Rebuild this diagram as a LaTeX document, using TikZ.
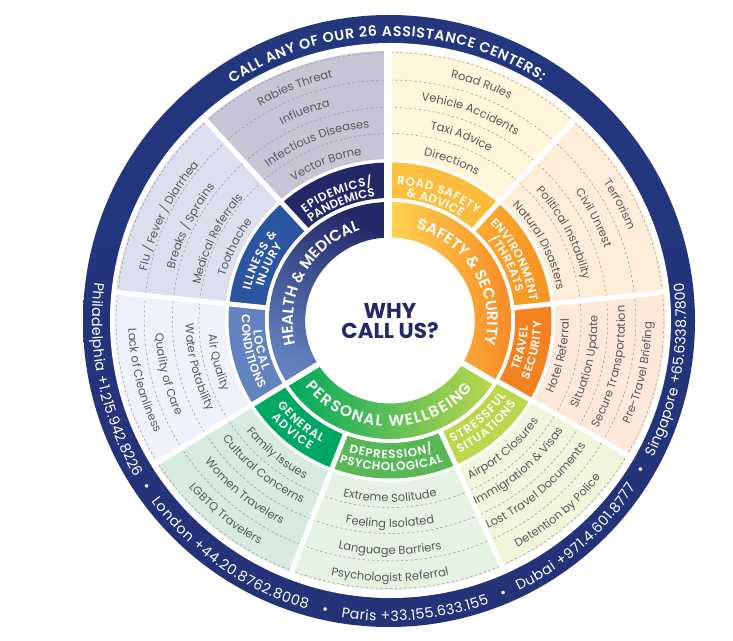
\documentclass[tikz,border=0pt]{standalone}
\usepackage{fontspec}
\setmainfont{Poppins}
\newfontfamily\hdfam{Poppins}[UprightFont=* SemiBold]
\usetikzlibrary{decorations.text}
\definecolor{ltgray}{HTML}{58595B}
\definecolor{navy}{HTML}{232866}
\newcommand\ltfont{\fontsize{11.5}{13}\selectfont}
\newcommand\midfont{\hdfam\fontsize{11.8}{13}\selectfont}
\newcommand\innfont{\hdfam\fontsize{15.4}{17}\selectfont}
\newcommand\rimfont{\fontsize{14.2}{16}\selectfont}
\def\fac{1.022}
\newcommand\sectpath[4]{(#1:\fac*#4 and #4) arc[start angle=#1,end angle=#2,x radius=\fac*#4,y radius=#4] -- (#2:\fac*#3 and #3) arc[start angle=#2,end angle=#1,x radius=\fac*#3,y radius=#3] -- cycle}
\newcommand\cwtext[6]{\path[decorate,decoration={text along path,text align=center,text color=#4,text={|#5|#6}}] (#1+#3:\fac*#2 and #2) arc[start angle=#1+#3,end angle=#1-#3,x radius=\fac*#2,y radius=#2];}
\newcommand\ccwtext[6]{\path[decorate,decoration={text along path,text align=center,text color=#4,text={|#5|#6}}] (#1-#3:\fac*#2 and #2) arc[start angle=#1-#3,end angle=#1+#3,x radius=\fac*#2,y radius=#2];}
\newcommand\fcw[6]{\path[decorate,decoration={text along path,text align={fit to path},text color=#4,text={|#5|#6}}] (#1+#3:\fac*#2 and #2) arc[start angle=#1+#3,end angle=#1-#3,x radius=\fac*#2,y radius=#2];}
\newcommand\fccw[6]{\path[decorate,decoration={text along path,text align={fit to path},text color=#4,text={|#5|#6}}] (#1-#3:\fac*#2 and #2) arc[start angle=#1-#3,end angle=#1+#3,x radius=\fac*#2,y radius=#2];}
\newcommand\lcw[3]{\cwtext{#1}{#2}{42}{ltgray}{\ltfont}{#3}}
\newcommand\lccw[3]{\ccwtext{#1}{#2}{42}{ltgray}{\ltfont}{#3}}
\newcommand\mcw[4]{\fcw{#1}{#2}{#3}{white}{\midfont}{#4}}
\newcommand\mccw[4]{\fccw{#1}{#2}{#3}{white}{\midfont}{#4}}
\newcommand\gapline[4][5]{\draw[white,line width=#1pt] (#2:\fac*#3 and #3) -- (#2:\fac*#4 and #4);}
\begin{document}
\begin{tikzpicture}[x=1pt,y=1pt]
\useasboundingbox (0,0) rectangle (733,640);
\fill[white] (0,0) rectangle (733,640);
% outer ring
\shade[top color={rgb,255:red,35;green,54;blue,126},middle color={rgb,255:red,43;green,80;blue,160},bottom color={rgb,255:red,36;green,50;blue,120}] (389,319) circle[radius=306];
\fill[white] (390.5,319.5) ellipse[x radius=280.5,y radius=277.5];
\begin{scope}[shift={(390,319.5)}]
% light sectors
\fill[fill={rgb,255:red,200;green,198;blue,214}] \sectpath{90}{132}{161.5}{269.5};
\fill[fill={rgb,255:red,221;green,222;blue,238}] \sectpath{132}{174}{161.5}{269.5};
\fill[fill={rgb,255:red,239;green,242;blue,250}] \sectpath{174}{212}{161.5}{269.5};
\fill[fill={rgb,255:red,215;green,235;blue,223}] \sectpath{212}{249}{161.5}{269.5};
\fill[fill={rgb,255:red,230;green,242;blue,226}] \sectpath{249}{294}{161.5}{269.5};
\fill[fill={rgb,255:red,240;green,245;blue,220}] \sectpath{294}{330}{161.5}{269.5};
\fill[fill={rgb,255:red,253;green,232;blue,218}] \sectpath{330}{366}{161.5}{269.5};
\fill[fill={rgb,255:red,254;green,237;blue,216}] \sectpath{366}{408}{161.5}{269.5};
\fill[fill={rgb,255:red,255;green,245;blue,218}] \sectpath{408}{450}{161.5}{269.5};
% dashed arcs
\foreach \r in {187,213,240.5,268}
  \draw[color={rgb,255:red,150;green,150;blue,150},line width=0.5pt,dash pattern=on 2.4pt off 2.4pt] (0,0) ellipse[x radius=\fac*\r,y radius=\r];
% middle ring
\fill[navy] \sectpath{90}{132}{122.5}{158};
\fill[fill={rgb,255:red,43;green,85;blue,160}] \sectpath{132}{174}{122.5}{158};
\fill[fill={rgb,255:red,98;green,131;blue,192}] \sectpath{174}{212}{122.5}{158};
\fill[fill={rgb,255:red,0;green,168;blue,98}] \sectpath{212}{249}{122.5}{158};
\fill[fill={rgb,255:red,90;green,183;blue,88}] \sectpath{249}{294}{122.5}{158};
\fill[fill={rgb,255:red,188;green,215;blue,77}] \sectpath{294}{330}{122.5}{158};
\fill[fill={rgb,255:red,245;green,130;blue,32}] \sectpath{330}{366}{122.5}{158};
\shade[left color={rgb,255:red,251;green,170;blue,50},right color={rgb,255:red,247;green,147;blue,33}] \sectpath{366}{408}{122.5}{158};
\shade[left color={rgb,255:red,253;green,193;blue,63},right color={rgb,255:red,253;green,185;blue,58}] \sectpath{408}{450}{122.5}{158};
% inner ring
\shade[top color=navy,middle color={rgb,255:red,43;green,82;blue,160},bottom color={rgb,255:red,98;green,128;blue,190},shading angle=-30] \sectpath{90}{212}{83}{118.5};
\shade[left color={rgb,255:red,0;green,168;blue,95},middle color={rgb,255:red,110;green,190;blue,90},right color={rgb,255:red,188;green,215;blue,77}] \sectpath{212}{329}{83}{118.5};
\shade[left color={rgb,255:red,255;green,210;blue,80},right color={rgb,255:red,245;green,130;blue,32}] \sectpath{329}{450}{83}{118.5};
% white gaps
\foreach \a in {48,6,-30,-66,-111,-148,-186,-228}
  \gapline{\a}{120.5}{272}
\gapline{-31}{80}{120.5}
\gapline{212}{80}{120.5}
\draw[white,line width=7.5pt] (-2,80) -- (-2,274);
% centre
\node (why) [navy,align=center,font=\fontsize{21.5}{20.5}\selectfont\bfseries] at (0,-0.5) {WHY\\CALL US?};
% inner labels
\fcw{151.3}{95}{43.3}{white}{\innfont}{HEALTH {\&} MEDICAL}
\fcw{29.9}{95}{44.5}{white}{\innfont}{SAFETY {\&} SECURITY}
\fccw{269.4}{106}{50.6}{white}{\innfont}{PERSONAL WELLBEING}
% mid labels
\mcw{112.5}{136}{15.3}{EPIDEMICS/}
\mcw{112.5}{124.5}{15.8}{PANDEMICS}
\mcw{69.3}{136}{17.9}{ROAD SAFETY}
\mcw{69.3}{124.5}{13.3}{{\&} ADVICE}
\mcw{26.4}{138}{18.5}{ENVIRONMENT}
\mcw{26.4}{126.5}{13.5}{/THREATS}
\mccw{-12}{135}{9.6}{TRAVEL}
\mccw{-12}{148}{11.8}{SECURITY}
\mccw{-48.5}{136.5}{14.9}{STRESSFUL}
\mccw{-48.5}{149}{14.4}{SITUATIONS}
\mccw{-89.5}{138}{17.4}{DEPRESSION/}
\mccw{-89.5}{150.5}{19.8}{PSYCHOLOGICAL}
\mccw{229.3}{139}{11.8}{GENERAL}
\mccw{229.3}{151}{9.5}{ADVICE}
\mcw{154.8}{140}{12.7}{ILLNESS {\&}}
\mcw{154.8}{128.5}{10}{INJURY}
\mccw{193}{134}{8.8}{LOCAL}
\mccw{193}{145}{15.2}{CONDITIONS}
% light labels
\lcw{112}{168}{Vector Borne}
\lcw{112}{194}{Infectious Diseases}
\lcw{112}{222}{Influenza}
\lcw{112}{249}{Rabies Threat}
\lcw{69}{168}{Directions}
\lcw{69}{195}{Taxi Advice}
\lcw{69}{222}{Vehicle Accidents}
\lcw{69}{250}{Road Rules}
\lcw{27}{166}{Natural Disasters}
\lcw{27}{193}{Political Instability}
\lcw{27}{222}{Civil Unrest}
\lcw{27}{250}{Terrorism}
\lcw{154.5}{167}{Toothache}
\lcw{154.5}{189}{Medical Referrals}
\lcw{154.5}{217}{Breaks / Sprains}
\lcw{154.5}{243}{Flu / Fever / Diarrhea}
\lccw{193.8}{178}{Air Quality}
\lccw{193.8}{200}{Water Potability}
\lccw{193.8}{230}{Quality of Care}
\lccw{193.8}{256}{Lack of Cleanliness}
\lccw{230}{179}{Family Issues}
\lccw{230}{202}{Cultural Concerns}
\lccw{230}{230}{Women Travelers}
\lccw{230}{258}{LGBTQ Travelers}
\lccw{270}{181.5}{Extreme Solitude}
\lccw{270}{207}{Feeling Isolated}
\lccw{270}{234}{Language Barriers}
\lccw{270}{261}{Psychologist Referral}
\lccw{311}{177}{Airport Closures}
\lccw{311}{202}{Immigration {\&} Visas}
\lccw{311}{229}{Lost Travel Documents}
\lccw{311}{259}{Detention by Police}
\lccw{348}{175}{Hotel Referral}
\lccw{348}{203}{Situation Update}
\lccw{348}{230}{Secure Transportation}
\lccw{348}{256}{Pre-Travel Briefing}
\end{scope}
% rim labels
\begin{scope}[shift={(389,319)}]
\def\fac{0.99}
\fcw{90.5}{285}{33.2}{white}{\hdfam\fontsize{14.2}{16}\selectfont}{CALL ANY OF OUR 26 ASSISTANCE CENTERS:}
\fccw{192}{300}{19.4}{white}{\rimfont}{Philadelphia +1.215.942.8226}
\ccwtext{214}{300}{3}{white}{\rimfont}{•}
\fccw{235.5}{300}{18.5}{white}{\rimfont}{London +44.20.8762.8008}
\ccwtext{257.4}{300}{3}{white}{\rimfont}{•}
\fccw{275.2}{300}{14.5}{white}{\rimfont}{Paris +33.155.633.155}
\ccwtext{293}{300}{3}{white}{\rimfont}{•}
\fccw{311.1}{300}{15.2}{white}{\rimfont}{Dubai +971.4.601.8777}
\ccwtext{329.7}{300}{3}{white}{\rimfont}{•}
\fccw{350.2}{300}{17.2}{white}{\rimfont}{Singapore +65.6338.7800}
\end{scope}
\end{tikzpicture}
\end{document}
